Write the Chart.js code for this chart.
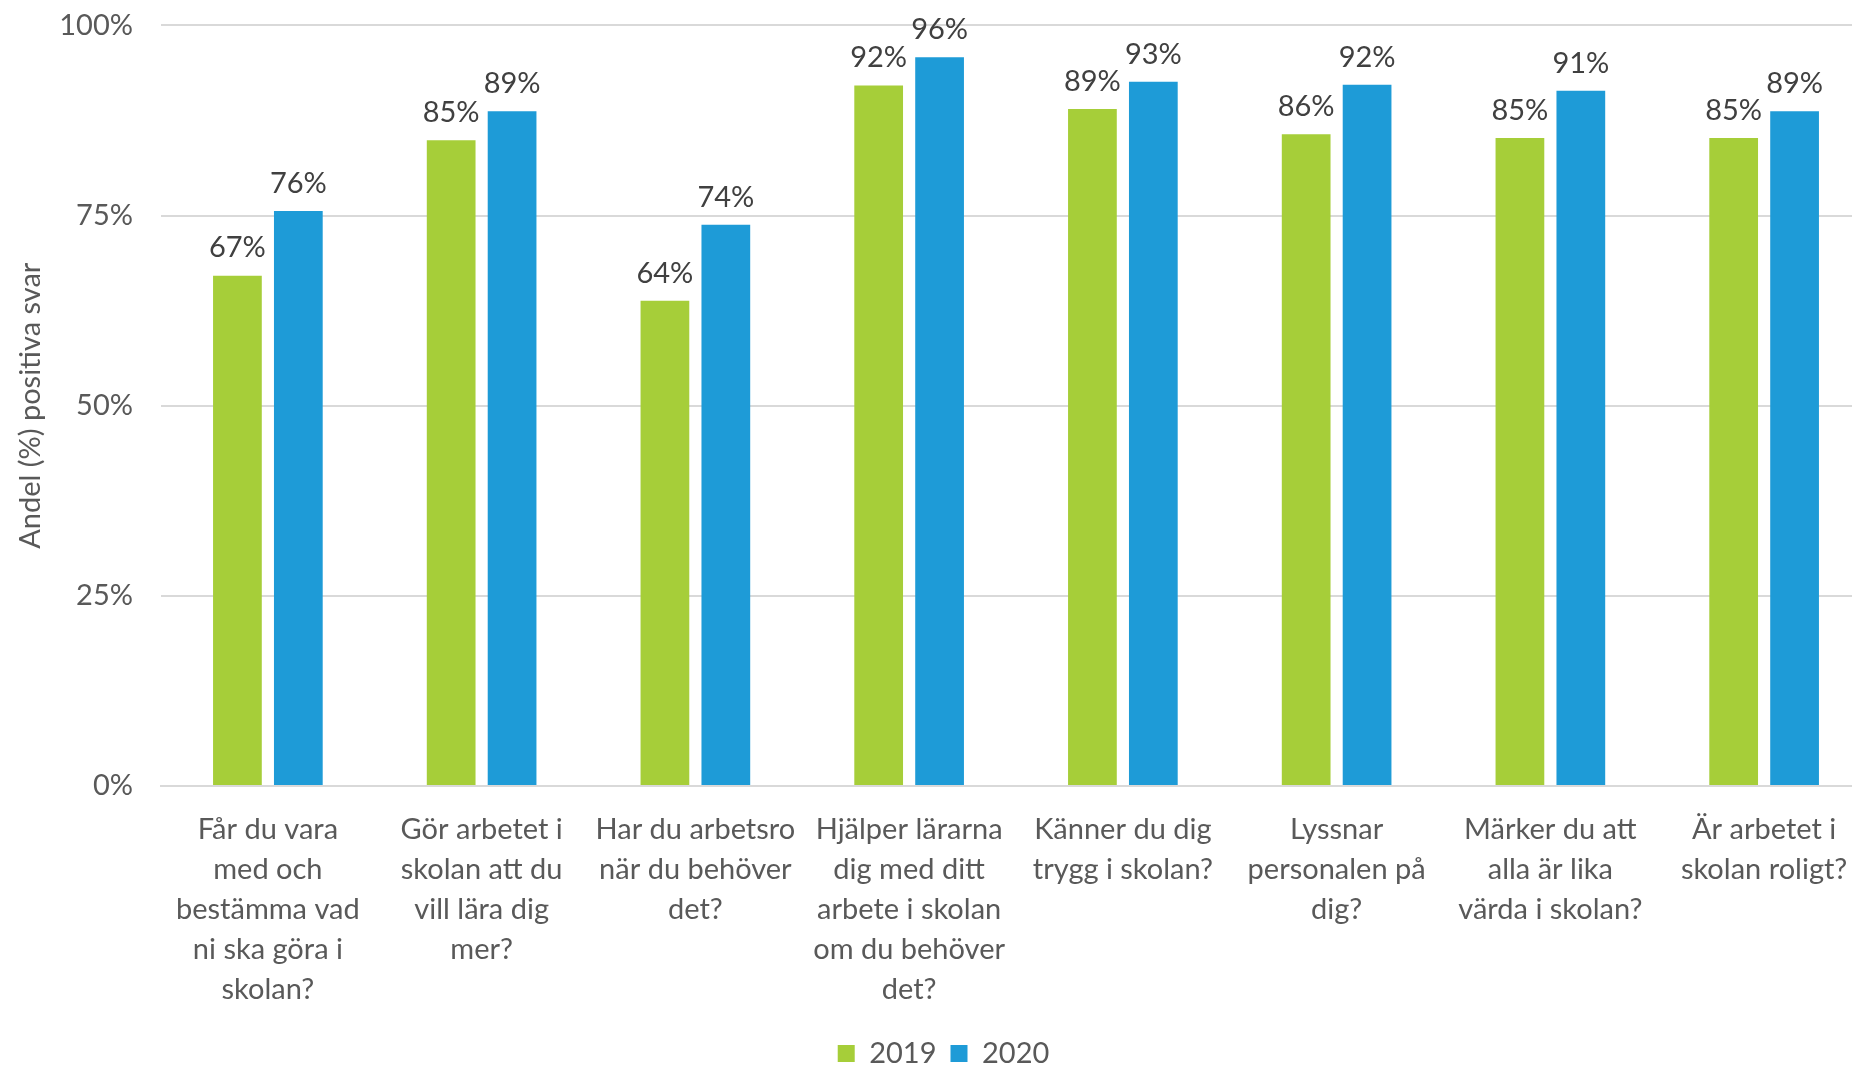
<!DOCTYPE html>
<html>
<head>
<meta charset="utf-8">
<script src="https://cdn.jsdelivr.net/npm/chart.js@4"></script>
<style>
    html, body { margin: 0; padding: 0; background: #fff; overflow: hidden; }
    /* the original plot runs a little past the right and top edges */
    #wrap { width: 1871px; height: 1087px; margin-top: -20px; }
</style>
</head>
<body>
<div id="wrap"><canvas id="surveyChart"></canvas></div>
<script>
const questions = [
    ["Får du vara", "med och", "bestämma vad", "ni ska göra i", "skolan?"],
    ["Gör arbetet i", "skolan att du", "vill lära dig", "mer?"],
    ["Har du arbetsro", "när du behöver", "det?"],
    ["Hjälper lärarna", "dig med ditt", "arbete i skolan", "om du behöver", "det?"],
    ["Känner du dig", "trygg i skolan?"],
    ["Lyssnar", "personalen på", "dig?"],
    ["Märker du att", "alla är lika", "värda i skolan?"],
    ["Är arbetet i", "skolan roligt?"]
];

const years = ["2019", "2020"];
const values2019 = [67.1, 84.9, 63.8, 92.1, 89.0, 85.7, 85.2, 85.2];
const values2020 = [75.6, 88.7, 73.8, 95.8, 92.6, 92.2, 91.4, 88.7];
const yTicks = [0, 25, 50, 75, 100];

const fontFamily = "Lato, 'Open Sans', sans-serif";

// draws the percentage above every bar
const valueLabels = {
    id: "valueLabels",
    afterDatasetsDraw(chart) {
        const ctx = chart.ctx;
        ctx.save();
        ctx.font = "29px " + fontFamily;
        ctx.fillStyle = "#404040";
        ctx.textAlign = "center";
        ctx.textBaseline = "bottom";
        chart.data.datasets.forEach((ds, i) => {
            chart.getDatasetMeta(i).data.forEach((bar, j) => {
                ctx.fillText(Math.round(ds.data[j]) + "%", bar.x, bar.y - 13);
            });
        });
        ctx.restore();
    }
};

// legend in the original sits a bit right of the centre and lower
const legendShift = {
    id: "legendShift",
    afterLayout(chart) {
        chart.legend.left += 8;
        chart.legend.right += 8;
        chart.legend.top += 11;
        chart.legend.bottom += 11;
    }
};

window.onload = function () {
    const context = document.getElementById("surveyChart").getContext("2d");

    new Chart(context, {
        type: "bar",
        data: {
            labels: questions,
            datasets: [
                { label: years[0], data: values2019, backgroundColor: "#a6ce39" },
                { label: years[1], data: values2020, backgroundColor: "#1e9bd7" }
            ]
        },
        options: {
            responsive: true,
            maintainAspectRatio: false,
            animation: false,
            layout: { padding: { top: 10, right: 0, left: 0, bottom: 0 } },
            datasets: {
                bar: { categoryPercentage: 0.57, barPercentage: 0.8 }
            },
            plugins: {
                legend: {
                    position: "bottom",
                    labels: {
                        boxWidth: 17,
                        boxHeight: 17,
                        padding: 14,
                        color: "#595959",
                        font: { family: fontFamily, size: 29 }
                    }
                },
                tooltip: { enabled: false }
            },
            scales: {
                x: {
                    grid: { display: false },
                    border: { color: "#d9d9d9", width: 2 },
                    ticks: {
                        color: "#595959",
                        maxRotation: 0,
                        autoSkip: false,
                        padding: 16,
                        font: { family: fontFamily, size: 29, lineHeight: 1.38 }
                    },
                    afterFit(scale) { scale.height = 228; }
                },
                y: {
                    min: 0,
                    max: 100,
                    afterBuildTicks(scale) {
                        scale.ticks = yTicks.map(v => ({ value: v }));
                    },
                    grid: { color: "#d9d9d9", lineWidth: 2, drawTicks: false },
                    border: { display: false },
                    ticks: {
                        color: "#595959",
                        padding: 28,
                        font: { family: fontFamily, size: 29 },
                        callback: v => v + "%"
                    },
                    title: {
                        display: true,
                        text: "Andel (%) positiva svar",
                        color: "#595959",
                        padding: { top: 13, bottom: 14 },
                        font: { family: fontFamily, size: 29 }
                    },
                    afterFit(scale) { scale.width = 161; }
                }
            }
        },
        plugins: [valueLabels, legendShift]
    });
};
</script>
</body>
</html>
